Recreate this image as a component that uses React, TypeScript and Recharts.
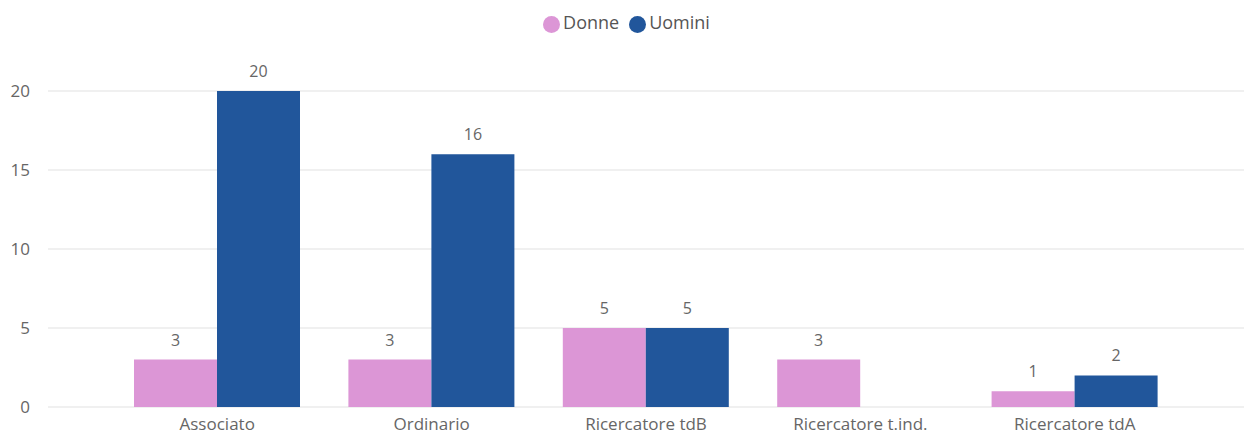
import React from "react";
import { BarChart, Bar, XAxis, YAxis, CartesianGrid, Legend, LabelList } from "recharts";

const categories = ["Associato", "Ordinario", "Ricercatore tdB", "Ricercatore t.ind.", "Ricercatore tdA"];
const donne = [3, 3, 5, 3, 1];
const uomini = [20, 16, 5, null, 2];
const yTicks = [0, 5, 10, 15, 20];

const data = categories.map((c, i) => ({ name: c, Donne: donne[i], Uomini: uomini[i] }));

const FONT = "'Open Sans', 'Noto Sans', sans-serif";

export default function App() {
  return (
    <div style={{ position: "absolute", left: 0, top: 0, fontFamily: FONT }}>
      <BarChart
        width={1245}
        height={437}
        data={data}
        margin={{ top: 56, right: 1, left: 0, bottom: 0 }}
        barGap={0}
        barSize={83}
      >
        <Legend
          verticalAlign="top"
          align="center"
          iconType="circle"
          iconSize={17}
          height={35}
          wrapperStyle={{ top: 10, fontSize: 18, fontFamily: FONT, paddingLeft: 19, boxSizing: "border-box" }}
          formatter={(v: string) => <span style={{ color: "#555", marginLeft: -1 }}>{v}</span>}
        />
        <CartesianGrid vertical={false} stroke="#ebebeb" strokeWidth={1.5} />
        <XAxis
          dataKey="name"
          axisLine={false}
          tickLine={false}
          height={30}
          tickMargin={5}
          padding={{ left: 62, right: 62 }}
          tick={{ fill: "#666", fontSize: 17, fontFamily: FONT }}
          interval={0}
        />
        <YAxis
          width={48}
          domain={[0, 20]}
          ticks={yTicks}
          axisLine={false}
          tickLine={false}
          tickMargin={12}
          tick={{ fill: "#666", fontSize: 17, fontFamily: FONT }}
        />
        <Bar dataKey="Donne" fill="#DC96D6" isAnimationActive={false}>
          <LabelList dataKey="Donne" position="top" offset={14} fill="#666" fontSize={16} fontFamily={FONT} />
        </Bar>
        <Bar dataKey="Uomini" fill="#21569B" isAnimationActive={false}>
          <LabelList dataKey="Uomini" position="top" offset={14} fill="#666" fontSize={16} fontFamily={FONT} />
        </Bar>
      </BarChart>
    </div>
  );
}
